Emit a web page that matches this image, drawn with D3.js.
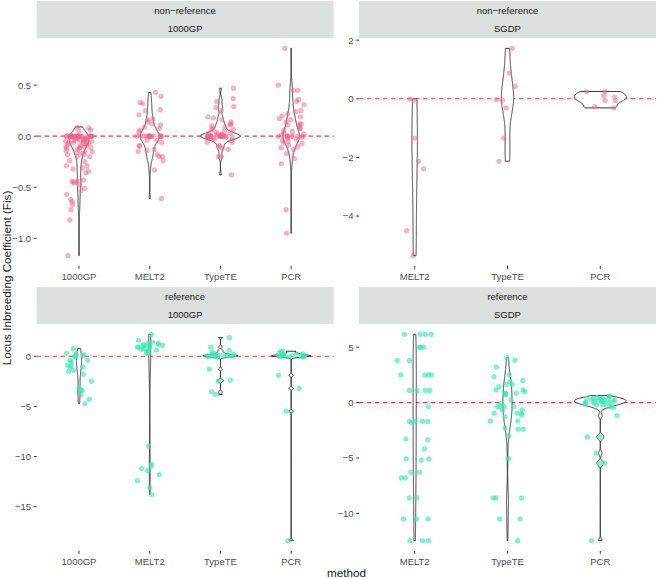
<!DOCTYPE html>
<html><head><meta charset="utf-8">
<script src="https://cdn.jsdelivr.net/npm/d3@7"></script>
<style>
body{margin:0;background:#fff}
svg{display:block;font-family:"Liberation Sans",Arial,Helvetica,sans-serif}
</style>
</head><body>
<svg id="chart" width="658" height="579"></svg>
<script>
// ---------------- DATA ----------------
const stripTypes = ["non\u2212reference", "non\u2212reference", "reference", "reference"];
const stripDatasets = ["1000GP", "SGDP", "1000GP", "SGDP"];
const methods1000GP = ["1000GP", "MELT2", "TypeTE", "PCR"];
const methodsSGDP = ["MELT2", "TypeTE", "PCR"];
const ticksNonRef1000GP = [-1.0, -0.5, 0.0, 0.5];
const ticksNonRefSGDP = [-4, -2, 0, 2];
const ticksRef1000GP = [-15, -10, -5, 0];
const ticksRefSGDP = [-10, -5, 0, 5];

// non-reference / 1000GP
const nonRef1000GP_1000GP = [0.09,0.08,0.06,0.05,
  0,0,0,0,0,0,0,0,0,0,0,0,0,0,0,0,0,0,0,0,0,0,
  -0.01,-0.01,-0.01,-0.02,-0.02,-0.02,-0.03,-0.03,-0.03,-0.04,-0.04,-0.04,-0.05,-0.05,-0.05,
  -0.06,-0.06,-0.07,-0.07,-0.08,-0.08,-0.09,-0.09,-0.10,-0.10,-0.11,-0.11,-0.12,-0.12,
  -0.13,-0.14,-0.15,-0.15,-0.16,-0.17,-0.18,-0.18,
  -0.20,-0.20,-0.24,-0.25,-0.29,-0.29,-0.31,-0.32,-0.34,-0.36,-0.43,-0.44,-0.44,-0.45,-0.46,-0.48,-0.51,-0.53,
  -0.57,-0.62,-0.64,-0.67,-0.72,-0.82,-1.17];
const nonRef1000GP_MELT2 = [0.43,0.39,0.33,0.32,0.26,0.25,0.21,0.17,0.16,0.14,0.12,0.11,0.09,0.075,0.06,0.04,
  0,0,0,0,0,0,0,0,0,0,0,0,0,0,-0.04,-0.04,-0.06,-0.09,-0.10,-0.13,-0.14,-0.15,-0.18,-0.20,-0.20,-0.24,-0.33,-0.61];
const nonRef1000GP_TypeTE = [0.47,0.37,0.34,0.29,0.28,0.25,0.19,0.18,0.16,0.14,0.12,0.11,0.10,0.09,0.08,0.065,0.06,
  0.05,0.04,0.03,0.03,0.02,0.02,0.01,0.01,0,0,0,0,0,0,0,0,0,0,0,0,0,0,-0.01,-0.01,-0.01,-0.02,-0.02,-0.03,-0.04,
  -0.06,-0.06,-0.09,-0.10,-0.12,-0.13,-0.20,-0.20,-0.38];
const nonRef1000GP_PCR = [0.86,0.50,0.45,0.45,0.36,0.34,0.31,0.25,0.24,0.22,0.20,0.19,0.17,0.16,0.14,0.12,0.12,0.11,
  0.10,0.08,0.075,0.06,0.05,0.03,0.02,0.01,0,0,0,0,0,0,0,0,-0.01,-0.02,-0.03,-0.04,-0.05,-0.06,-0.07,-0.09,-0.10,
  -0.11,-0.13,-0.17,-0.22,-0.27,-0.72,-0.95];
// non-reference / SGDP
const nonRefSGDP_MELT2 = [0, -0.05, -1.34, -2.13, -2.39, -4.5, -5.35];
const nonRefSGDP_TypeTE = [1.72, 0.88, 0.43, -0.05, -0.03, -0.31, -1.34, -2.13];
const nonRefSGDP_PCR = [0.06, 0.11, -0.06, 0.24, 0.25, -0.05, -0.27, -0.31];
// reference / 1000GP
const ref1000GP_1000GP = [0.76,0.30,0.27,0.17,0.10,0.05,0,-0.10,-0.40,-0.40,-0.56,-0.90,-0.96,-1.06,-1.06,-1.40,-1.50,
  -1.80,-2.50,-3.10,-3.40,-3.40,-3.80,-4.30,-4.74];
const ref1000GP_MELT2 = [2.19,1.60,1.40,1.30,1.26,1.20,1.16,1.10,1.10,1.03,1.03,0.93,0.90,0.76,0.76,0.70,0.60,0.50,
  0.43,0.33,0.27,-8.96,-10.75,-11.0,-11.2,-11.4,-11.8,-12.4,-13.1,-13.8];
const ref1000GP_TypeTE = [1.86,0.93,0.60,0.43,0.27,0.20,0.17,0.10,0.10,0.08,0.05,0.03,0,0,0,-0.03,-0.07,
  -1.29,-2.39,-2.49,-3.55,-3.81];
const ref1000GP_PCR = [0.50,0.50,0.30,0.25,0.20,0.15,0.10,0.10,0.05,0.05,0,0,0,0,-0.05,-0.10,-1.90,-3.20,-5.47,-18.4];
// reference / SGDP
const refSGDP_MELT2 = [6.16,6.16,6.16,6.16,5.0,5.0,5.0,3.8,3.8,2.5,2.5,2.5,2.5,1.1,1.1,1.1,1.1,-0.36,
  -1.7,-1.7,-1.7,-1.7,-1.8,-3.27,-3.36,-4.17,-5.07,-5.07,-5.2,-6.27,-6.27,-6.8,-6.8,-8.6,-8.6,
  -10.5,-10.5,-10.5,-12.46,-12.46,-12.46];
const refSGDP_TypeTE = [4.05,3.84,3.2,2.5,2.34,2.0,1.9,1.65,1.65,1.44,1.14,1.14,1.0,0.84,0.84,0.84,0.69,0.24,
  -0.06,-0.36,-0.36,-0.36,-0.36,-0.66,-0.66,-0.96,-0.96,-0.96,-1.1,-1.26,-1.65,-1.65,-2.3,-2.4,-2.4,-3.0,
  -5.07,-8.6,-8.6,-8.6,-10.5,-10.5,-12.46];
const refSGDP_PCR = [0.63,0.55,0.45,0.40,0.40,0.40,0.35,0.30,0.25,0.25,0.24,0.20,0.15,0.10,0.10,0.05,0.03,0,0,
  -0.05,-0.10,-0.15,-0.20,-0.20,-0.30,-0.36,-0.45,-1.17,-3.1,-3.1,-4.56,-5.47,-5.47,-12.46];

// ---------------- LAYOUT / STYLE ----------------
const panels = [
  {methods: methods1000GP, groups: [nonRef1000GP_1000GP, nonRef1000GP_MELT2, nonRef1000GP_TypeTE, nonRef1000GP_PCR],
   ticks: ticksNonRef1000GP, fmt: d3.format(".1f"), x0: 36.6, x1: 333.6, y0: 38, y1: 266, sy: 1, color: "#F0628B", op: 0.5},
  {methods: methodsSGDP, groups: [nonRefSGDP_MELT2, nonRefSGDP_TypeTE, nonRefSGDP_PCR],
   ticks: ticksNonRefSGDP, fmt: d3.format("d"), x0: 359, x1: 656, y0: 38, y1: 266, sy: 1, color: "#F0628B", op: 0.5},
  {methods: methods1000GP, groups: [ref1000GP_1000GP, ref1000GP_MELT2, ref1000GP_TypeTE, ref1000GP_PCR],
   ticks: ticksRef1000GP, fmt: d3.format("d"), x0: 36.6, x1: 333.6, y0: 324, y1: 551, sy: 287, color: "#3CE8B2", op: 0.65},
  {methods: methodsSGDP, groups: [refSGDP_MELT2, refSGDP_TypeTE, refSGDP_PCR],
   ticks: ticksRefSGDP, fmt: d3.format("d"), x0: 359, x1: 656, y0: 324, y1: 551, sy: 287, color: "#3CE8B2", op: 0.65}
];

const svg = d3.select("#chart");

function bwNrd0(x) {
  const s = [...x].sort(d3.ascending);
  const hi = d3.deviation(s);
  const iqr = d3.quantileSorted(s, 0.75) - d3.quantileSorted(s, 0.25);
  let lo = Math.min(hi, iqr / 1.34);
  if (!(lo > 0)) lo = hi || Math.abs(s[0]) || 1;
  return 0.9 * lo * Math.pow(s.length, -0.2);
}
function density(x) {
  const bw = bwNrd0(x);
  const [mn, mx] = d3.extent(x);
  const n = x.length, N = 512;
  const out = [];
  for (let i = 0; i < N; i++) {
    const v = mn + (mx - mn) * i / (N - 1);
    let s = 0;
    for (const xi of x) { const z = (v - xi) / bw; s += Math.exp(-0.5 * z * z); }
    out.push({v, d: s / (n * bw * Math.sqrt(2 * Math.PI))});
  }
  return out;
}

panels.forEach((p, pi) => {
  const g = svg.append("g");
  // strip
  g.append("rect").attr("x", p.x0).attr("y", p.sy).attr("width", p.x1 - p.x0).attr("height", 37)
    .attr("fill", "#DCE1DF");
  g.append("text").attr("x", (p.x0 + p.x1) / 2).attr("y", p.sy + 13.4).attr("text-anchor", "middle")
    .attr("font-size", 9.5).attr("fill", "#1A1A1A").text(stripTypes[pi]);
  g.append("text").attr("x", (p.x0 + p.x1) / 2).attr("y", p.sy + 31).attr("text-anchor", "middle")
    .attr("font-size", 9.5).attr("fill", "#1A1A1A").text(stripDatasets[pi]);

  const all = p.groups.flat();
  const [mn, mx] = d3.extent(all);
  const pad = (mx - mn) * 0.05;
  const y = d3.scaleLinear().domain([mn - pad, mx + pad]).range([p.y1, p.y0]);
  // discrete x scale: centres sit 0.6 units from each edge (ggplot discrete expansion)
  const x = d3.scalePoint().domain(p.methods).range([p.x0, p.x1]).padding(0.6);
  const unit = x.step();
  const cx = m => x(m);

  // y axis ticks
  p.ticks.forEach(t => {
    g.append("line").attr("x1", p.x0 - 2.75).attr("x2", p.x0).attr("y1", y(t)).attr("y2", y(t))
      .attr("stroke", "#333").attr("stroke-width", 1);
    g.append("text").attr("x", p.x0 - 5.5).attr("y", y(t) + 3.4).attr("text-anchor", "end")
      .attr("font-size", 9.5).attr("fill", "#4D4D4D").text(p.fmt(t));
  });
  // x axis ticks
  p.methods.forEach(m => {
    g.append("line").attr("x1", cx(m)).attr("x2", cx(m)).attr("y1", p.y1).attr("y2", p.y1 + 2.75)
      .attr("stroke", "#333").attr("stroke-width", 1);
    g.append("text").attr("x", cx(m)).attr("y", p.y1 + 13.5).attr("text-anchor", "middle")
      .attr("font-size", 9.5).attr("fill", "#4D4D4D").text(m);
  });

  // reference line
  g.append("line").attr("x1", p.x0).attr("x2", p.x1).attr("y1", y(0)).attr("y2", y(0))
    .attr("stroke", "#F03C3C").attr("stroke-width", 1.1).attr("stroke-dasharray", "4.5,3.5");

  // violins
  const dens = p.groups.map(density);
  const maxD = d3.max(dens, ds => d3.max(ds, d => d.d));
  p.groups.forEach((vals, gi) => {
    const c = cx(p.methods[gi]);
    const w = d => d / maxD * 0.28 * unit;
    const area = d3.area().y(d => y(d.v)).x0(d => c - w(d.d)).x1(d => c + w(d.d));
    g.append("path").attr("d", area(dens[gi]) + "Z").attr("fill", "#fff")
      .attr("stroke", "#222").attr("stroke-width", 0.9);
  });

  // jittered points (seeded uniform jitter, like geom_jitter)
  p.groups.forEach((vals, gi) => {
    const c = cx(p.methods[gi]);
    const jit = d3.randomUniform.source(d3.randomLcg(0.137 * (pi + 1) + 0.071 * (gi + 1)))(-0.19, 0.19);
    vals.forEach(v => {
      g.append("circle").attr("cx", c + jit() * unit).attr("cy", y(v)).attr("r", 2.6)
        .attr("fill", p.color).attr("fill-opacity", p.op);
    });
  });
});

// axis titles
svg.append("text").attr("x", 346.5).attr("y", 577).attr("text-anchor", "middle")
  .attr("font-size", 11.7).attr("fill", "#1A1A1A").text("method");
svg.append("text").attr("transform", "translate(11,278) rotate(-90)").attr("text-anchor", "middle")
  .attr("font-size", 11.7).attr("fill", "#1A1A1A").text("Locus Inbreeding Coefficient (Fis)");
</script>
</body></html>
